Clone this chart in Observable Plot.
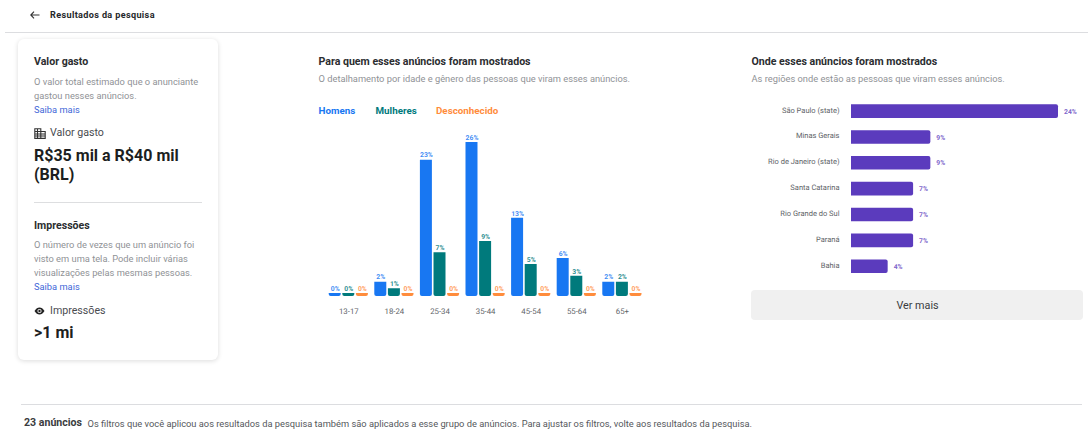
<!DOCTYPE html>
<html lang="pt-BR">
<head>
<meta charset="utf-8">
<script src="https://cdn.jsdelivr.net/npm/d3@7"></script>
<script src="https://cdn.jsdelivr.net/npm/@observablehq/plot@0.6"></script>
<style>
html,body{margin:0;padding:0;background:#fff;width:1088px;height:438px;overflow:hidden;font-family:Roboto,sans-serif;color:#1c1e21}
.t{position:absolute;white-space:nowrap;line-height:1;transform:translateY(-50%)}
.b{font-weight:700}
.h{font-size:10.6px;font-weight:700;color:#2b2d30}
.d{font-size:9.3px;color:#8f9296}
.l{font-size:9.3px;color:#4267d8}
.m{font-size:10.65px;color:#4a4c50}
.v{font-size:16px;font-weight:700;color:#1c1e21}
.r{position:absolute}
#age,#reg{position:absolute}
#age svg,#reg svg{display:block;overflow:visible;text-rendering:geometricPrecision}
</style>
</head>
<body>
<div class="r" style="left:5px;right:0;top:31.5px;height:1px;background:#dcdde0"></div>
<svg class="r" style="left:29px;top:10px" width="12" height="10" viewBox="0 0 12 10"><path d="M10.5 5H2M5 1.7 1.8 5 5 8.3" fill="none" stroke="#333" stroke-width="1.1"/></svg>
<div class="t b" style="left:50px;top:15.5px;font-size:9.1px;letter-spacing:.35px;color:#25272a">Resultados da pesquisa</div>

<div class="r" style="left:18px;top:39px;width:200px;height:321px;border-radius:6px;background:#fff;box-shadow:0 1px 5px rgba(0,0,0,.14)"></div>
<div class="t h" style="left:34px;top:61.5px">Valor gasto</div>
<div class="t d" style="left:34px;top:82px">O valor total estimado que o anunciante</div>
<div class="t d" style="left:34px;top:96px">gastou nesses anúncios.</div>
<div class="t l" style="left:34px;top:110px">Saiba mais</div>
<svg class="r" style="left:34px;top:128px" width="12" height="11" viewBox="0 0 12 11"><path d="M.8.8h6v9.6h-6zM6.8 3.5h4.4v6.9H6.8zM.8 3.5h6M.8 6h10.4M.8 8h10.4M3.5.8v9.6" fill="none" stroke="#333" stroke-width="1.1"/></svg>
<div class="t m" style="left:50px;top:133px">Valor gasto</div>
<div class="t v" style="left:34px;top:156px">R$35 mil a R$40 mil</div>
<div class="t v" style="left:34px;top:175px">(BRL)</div>
<div class="r" style="left:34px;top:202px;width:168px;height:1px;background:#dddee0"></div>
<div class="t h" style="left:34px;top:226px">Impressões</div>
<div class="t d" style="left:34px;top:245px">O número de vezes que um anúncio foi</div>
<div class="t d" style="left:34px;top:259px">visto em uma tela. Pode incluir várias</div>
<div class="t d" style="left:34px;top:273px">visualizações pelas mesmas pessoas.</div>
<div class="t l" style="left:34px;top:287px">Saiba mais</div>
<svg class="r" style="left:34px;top:307px" width="11" height="8" viewBox="0 0 11 8"><path d="M.5 4C2 1.5 3.6.5 5.5.5S9 1.5 10.5 4C9 6.500 7.400 7.500 5.500 7.500S2 6.500 .5 4Z" fill="#222"/><circle cx="5.500" cy="4" r="2.100" fill="#fff"/><circle cx="5.500" cy="4" r="1.200" fill="#222"/></svg>
<div class="t m" style="left:50px;top:311px">Impressões</div>
<div class="t v" style="left:34px;top:333px">&gt;1 mi</div>

<div class="t h" style="left:318.500px;top:61.500px">Para quem esses anúncios foram mostrados</div>
<div class="t d" style="left:318.500px;top:78.500px">O detalhamento por idade e gênero das pessoas que viram esses anúncios.</div>
<div id="legend"></div>
<div id="age" style="left:318px;top:125px"></div>

<div class="t h" style="left:751.500px;top:61.500px">Onde esses anúncios foram mostrados</div>
<div class="t d" style="left:751.500px;top:78.500px">As regiões onde estão as pessoas que viram esses anúncios.</div>
<div id="reg" style="left:745px;top:95px"></div>
<div class="r" style="left:751px;top:290px;width:332px;height:30px;border-radius:4px;background:#f0f0f0"></div>
<div class="t" style="left:917.500px;top:305.500px;font-size:10.800px;color:#3a3c40;transform:translate(-50%,-50%)">Ver mais</div>

<div class="r" style="left:21px;top:404px;width:1061px;height:1px;background:#dcdde0"></div>
<div class="t b" style="left:24px;top:423px;font-size:10.600px;color:#3a3c40">23 anúncios</div>
<div class="t" style="left:87.500px;top:423.500px;font-size:9.300px;color:#55585c">Os filtros que você aplicou aos resultados da pesquisa também são aplicados a esse grupo de anúncios. Para ajustar os filtros, volte aos resultados da pesquisa.</div>

<script>
// Age and gender chart
const ages = ["13-17","18-24","25-34","35-44","45-54","55-64","65+"];
const genders = ["Homens","Mulheres","Desconhecido"];
const genderColors = ["#1877f2","#007a7c","#ff8c3c"];
// heights, in percent
const menHeights = [0.5,2.4,23,26,13.2,6.4,2.4];
const womenHeights = [0.5,1.3,7.4,9.3,5.4,3.4,2.4];
const unknownHeights = [0.5,0.5,0.5,0.5,0.5,0.5,0.5];
// labels as printed above the bars
const menLabels = ["0%","2%","23%","26%","13%","6%","2%"];
const womenLabels = ["0%","1%","7%","9%","5%","3%","2%"];
const unknownLabels = ["0%","0%","0%","0%","0%","0%","0%"];

// Region chart
const regions = ["São Paulo (state)","Minas Gerais","Rio de Janeiro (state)","Santa Catarina","Rio Grande do Sul","Paraná","Bahia"];
const regionValues = [24,9.2,9.2,7.2,7.2,7.2,4.25];
const regionLabels = ["24%","9%","9%","7%","7%","7%","4%"];
const regionColor = "#5b3bbd";

const ageRows = [];
[[menHeights,menLabels],[womenHeights,womenLabels],[unknownHeights,unknownLabels]].forEach(([hs,ls],g)=>{
  ages.forEach((age,i)=>ageRows.push({age,gender:genders[g],value:hs[i],label:ls[i]}));
});

// legend
const legendX = [318.500,375.500,436];
document.getElementById("legend").innerHTML = genders.map((g,i)=>
  `<div class="t b" style="left:${legendX[i]}px;top:111px;font-size:9.800px;color:${genderColors[i]}">${g}</div>`).join("");

document.getElementById("age").append(Plot.plot({
  width:340, height:200,
  marginLeft:10.7, marginRight:16.5, marginTop:17, marginBottom:29,
  style:{fontFamily:"Roboto,sans-serif",background:"transparent",overflow:"visible"},
  fx:{domain:ages,paddingInner:0.14,paddingOuter:0,round:false,label:null,axis:null},
  x:{domain:genders,paddingInner:0.118,paddingOuter:0,round:false,axis:null},
  y:{domain:[0,26],axis:null},
  color:{domain:genders,range:genderColors},
  marks:[
    Plot.barY(ageRows,{fx:"age",x:"gender",y:"value",fill:"gender",rx1y2:2,rx2y2:2}),
    Plot.text(ageRows,{fx:"age",x:"gender",y:"value",text:"label",fill:"gender",dy:-5,fontSize:6.800,fontWeight:700,fillOpacity:.85}),
    Plot.axisFx({anchor:"bottom",label:null,tickSize:0,tickPadding:12,fontSize:7.800,color:"#606367"})
  ]
}));

const regRows = regions.map((r,i)=>({region:r,value:regionValues[i],label:regionLabels[i]}));
document.getElementById("reg").append(Plot.plot({
  width:343, height:188,
  marginLeft:106, marginRight:30, marginTop:9.300, marginBottom:10,
  style:{fontFamily:"Roboto,sans-serif",background:"transparent",overflow:"visible"},
  x:{domain:[0,24],axis:null},
  y:{domain:regions,paddingInner:0.474,paddingOuter:0,round:false,label:null,axis:null},
  marks:[
    Plot.barX(regRows,{y:"region",x:"value",fill:regionColor,rx2y1:2,rx2y2:2}),
    Plot.text(regRows,{y:"region",x:"value",text:"label",fill:regionColor,textAnchor:"start",dx:5.500,fontSize:6.800,fontWeight:700,fillOpacity:.8}),
    Plot.axisY({anchor:"left",label:null,tickSize:0,tickPadding:12,dy:-1.500,fontSize:7.500,color:"#606367"})
  ]
}));
</script>
</body>
</html>
